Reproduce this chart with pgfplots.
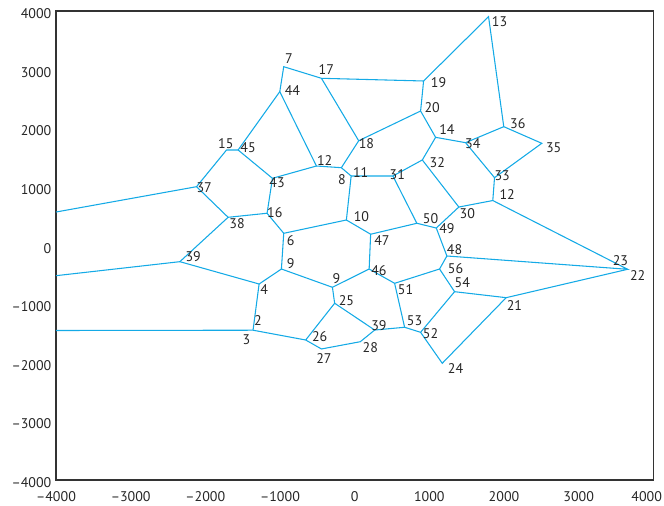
\documentclass[border=0pt]{standalone}
\usepackage{fontspec}
\setmainfont{PT Sans}
\usepackage{pgfplots}
\pgfplotsset{compat=1.18}
\definecolor{edge}{RGB}{20,170,230}
\pgfplotsset{vor/.style={edge, line width=0.8pt, mark=none, solid}}
\begin{document}
\begin{tikzpicture}
\begin{axis}[
  name=ax,
  width=448pt, height=351.75pt, scale only axis,
  xmin=-4000, xmax=4000, ymin=-4000, ymax=4000,
  xtick={-4000,-3000,...,3000}, ytick={-4000,-3000,...,4000},
  xticklabels={--4000,--3000,--2000,--1000,0,1000,2000,3000},
  yticklabels={--4000,--3000,--2000,--1000,0,1000,2000,3000,4000},
  extra x ticks={4000}, extra x tick labels={4000},
  extra x tick style={xticklabel style={xshift=-5pt}},
  tick label style={font=\fontsize{10.5}{12}\selectfont, text=black!85},
  xticklabel style={yshift=-5pt},
  yticklabel style={yshift=-2pt},
  major tick length=0pt,
  axis line style={black!80, line width=0.8pt},
  clip=false,
]
\addplot[vor] coordinates {(-4000,571) (-2118,1003) (-1716,1629) (-1561,1629) (-1003,2624) (-950,3050) (-445,2852) (923,2806) (1793,3903) (1997,2027) (2506,1743) (1873,1157) (1485,1754) (1084,1845) (883,2294) (923,2806)};
\addplot[vor] coordinates {(1997,2027) (1485,1754)};
\addplot[vor] coordinates {(883,2294) (54,1787) (-445,2852)};
\addplot[vor] coordinates {(54,1787) (-178,1327) (-512,1356) (-1003,2624)};
\addplot[vor] coordinates {(-512,1356) (-1101,1146) (-1561,1629)};
\addplot[vor] coordinates {(-1101,1146) (-1173,550) (-1695,481) (-2118,1003)};
\addplot[vor] coordinates {(-1695,481) (-2341,-276) (-4000,-515)};
\addplot[vor] coordinates {(-2341,-276) (-1280,-657) (-981,-401) (-950,208) (-1173,550)};
\addplot[vor] coordinates {(-950,208) (-111,435) (-47,1185) (-178,1327)};
\addplot[vor] coordinates {(-47,1185) (512,1185) (906,1459) (1084,1845)};
\addplot[vor] coordinates {(-1280,-657) (-1361,-1445) (-4000,-1450)};
\addplot[vor] coordinates {(-1361,-1445) (-656,-1612) (-445,-1765) (76,-1641) (268,-1442) (-268,-985) (-656,-1612)};
\addplot[vor] coordinates {(-268,-985) (-298,-713) (-981,-401)};
\addplot[vor] coordinates {(-298,-713) (194,-401) (214,192) (-111,435)};
\addplot[vor] coordinates {(214,192) (833,379) (512,1185)};
\addplot[vor] coordinates {(833,379) (1093,298) (1395,656) (906,1459)};
\addplot[vor] coordinates {(1395,656) (1850,767) (1873,1157)};
\addplot[vor] coordinates {(1850,767) (3656,-406) (1235,-179) (1093,298)};
\addplot[vor] coordinates {(1235,-179) (1137,-401) (535,-645) (194,-401)};
\addplot[vor] coordinates {(535,-645) (669,-1395) (268,-1442)};
\addplot[vor] coordinates {(669,-1395) (883,-1481) (1338,-788) (1137,-401)};
\addplot[vor] coordinates {(1338,-788) (2029,-890) (3656,-406)};
\addplot[vor] coordinates {(2029,-890) (1173,-2009) (883,-1481)};
\begin{scope}[every node/.style={font=\fontsize{10.5}{12}\selectfont, text=black!85, inner sep=0pt}]
\node at (axis cs:1940,3818) {13};
\node at (axis cs:1124,2777) {19};
\node at (axis cs:1039,2350) {20};
\node at (axis cs:1235,1983) {14};
\node at (axis cs:1583,1731) {34};
\node at (axis cs:2185,2073) {36};
\node at (axis cs:2666,1676) {35};
\node at (axis cs:1106,1413) {32};
\node at (axis cs:571,1215) {31};
\node at (axis cs:80,1249) {11};
\node at (axis cs:157,1743) {18};
\node at (axis cs:1976,1191) {33};
\node at (axis cs:2043,873) {12};
\node at (axis cs:1508,538) {30};
\node at (axis cs:1017,452) {50};
\node at (axis cs:90,492) {10};
\node at (axis cs:365,82) {47};
\node at (axis cs:1235,294) {49};
\node at (axis cs:1338,-64) {48};
\node at (axis cs:1351,-389) {56};
\node at (axis cs:1441,-627) {54};
\node at (axis cs:325,-435) {46};
\node at (axis cs:682,-759) {51};
\node at (axis cs:-111,-946) {25};
\node at (axis cs:325,-1373) {39};
\node at (axis cs:803,-1287) {53};
\node at (axis cs:1017,-1509) {52};
\node at (axis cs:210,-1744) {28};
\node at (axis cs:1351,-2095) {24};
\node at (axis cs:2140,-1027) {21};
\node at (axis cs:3559,-260) {23};
\node at (axis cs:3790,-515) {22};
\node at (axis cs:-879,3193) {7};
\node at (axis cs:-379,2994) {17};
\node at (axis cs:-833,2636) {44};
\node at (axis cs:-1726,1731) {15};
\node at (axis cs:-1427,1669) {45};
\node at (axis cs:-401,1447) {12};
\node at (axis cs:-170,1129) {8};
\node at (axis cs:-1039,1078) {43};
\node at (axis cs:-2016,986) {37};
\node at (axis cs:-1070,559) {16};
\node at (axis cs:-1575,379) {38};
\node at (axis cs:-856,77) {6};
\node at (axis cs:-856,-304) {9};
\node at (axis cs:-2163,-191) {39};
\node at (axis cs:-1213,-759) {4};
\node at (axis cs:-245,-560) {9};
\node at (axis cs:-1294,-1283) {2};
\node at (axis cs:-1449,-1600) {3};
\node at (axis cs:-468,-1555) {26};
\node at (axis cs:-411,-1924) {27};
\end{scope}
\end{axis}
\pgfresetboundingbox
\path[use as bounding box] ([shift={(-42pt,-19.5pt)}]ax.south west) rectangle ([shift={(8pt,8.25pt)}]ax.north east);
\end{tikzpicture}
\end{document}
